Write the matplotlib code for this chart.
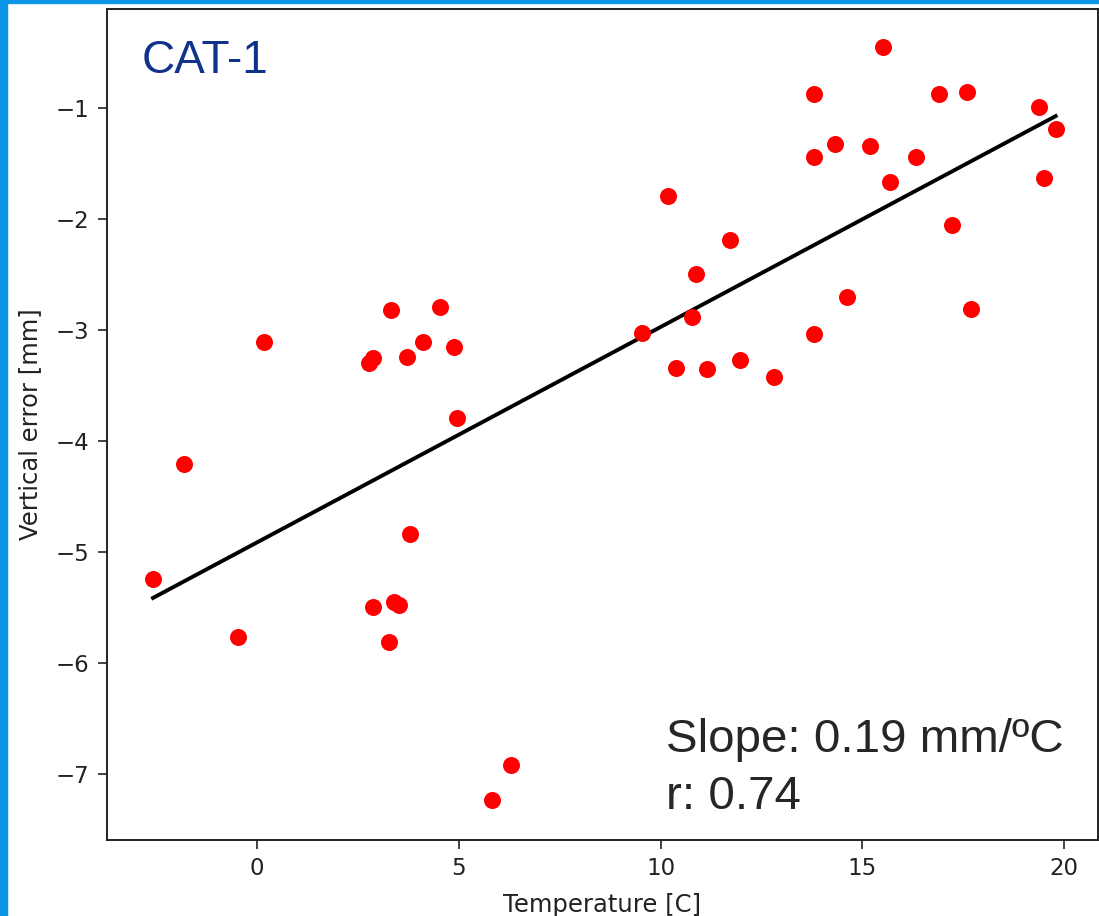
import matplotlib.pyplot as plt
import numpy as np
from matplotlib.patches import Rectangle

# temperature [C] and vertical error [mm]
temperature = [
    -1.80, -2.58, -0.48, 3.78, 2.87, 3.39, 3.51, 3.27,
    6.29, 5.82,
    10.19, 11.71, 10.88, 10.79, 9.53, 10.37, 11.14, 11.97, 12.80, 13.79,
    15.51, 13.80, 16.91, 17.60, 19.39, 19.79, 14.32, 15.19, 13.80, 16.33,
    19.49, 15.68, 17.22, 14.63, 17.69,
    0.17, 2.78, 2.88, 3.32, 3.71, 4.10, 4.54, 4.89, 4.95,
]
vertical_error = [
    -4.20, -5.24, -5.76, -4.83, -5.49, -5.45, -5.47, -5.81,
    -6.91, -7.23,
    -1.79, -2.19, -2.49, -2.88, -3.02, -3.34, -3.35, -3.27, -3.42, -3.03,
    -0.45, -0.87, -0.87, -0.85, -0.99, -1.19, -1.32, -1.34, -1.44, -1.44,
    -1.63, -1.66, -2.05, -2.70, -2.81,
    -3.10, -3.29, -3.25, -2.82, -3.24, -3.10, -2.79, -3.15, -3.79,
]

panel_title = "CAT-1"
slope_label = "Slope: 0.19 mm/\u00baC"
r_label = "r: 0.74"

W, H = 1099, 916
fig = plt.figure(figsize=(W / 100, H / 100), dpi=100)
fig.patch.set_facecolor("white")

ax = fig.add_axes([107 / W, 1 - 840 / H, (1098 - 107) / W, (840 - 9) / H])

x = np.array(temperature)
y = np.array(vertical_error)
ax.scatter(x, y, s=150, color="red", linewidths=0, zorder=3)

slope, intercept = np.polyfit(x, y, 1)
xs = np.array([x.min(), x.max()])
ax.plot(xs, slope * xs + intercept, color="black", linewidth=2.8, zorder=2)

ax.set_xlim(-3.72, 20.84)
ax.set_ylim(-7.59, -0.105)
ax.set_xticks([0, 5, 10, 15, 20])
ax.set_yticks([-1, -2, -3, -4, -5, -6, -7])
ax.set_yticklabels(["\u22121", "\u22122", "\u22123", "\u22124", "\u22125", "\u22126", "\u22127"])
ax.tick_params(labelsize=16.5, length=6.5, width=1.2, colors="#222222", pad=6)
for sp in ax.spines.values():
    sp.set_linewidth(1.4)
    sp.set_color("#222222")

ax.set_xlabel("Temperature [C]", fontsize=17.5, color="#222222", labelpad=9)
ax.set_ylabel("Vertical error [mm]", fontsize=17.5, color="#222222", labelpad=10)

fig.text(142 / W, 1 - 73 / H, panel_title, fontsize=33, color="#10318c",
         family="Liberation Sans", va="baseline", ha="left")
fig.text(666 / W, 1 - 752 / H, slope_label, fontsize=34.2, color="#262626",
         family="Liberation Sans", va="baseline", ha="left")
fig.text(666 / W, 1 - 809 / H, r_label, fontsize=34.2, color="#262626",
         family="Liberation Sans", va="baseline", ha="left")

# blue slide border on the left and top
blue = "#0a95e8"
fig.patches.append(Rectangle((0, 0), 7 / W, 1, transform=fig.transFigure,
                             color=blue, zorder=10))
fig.patches.append(Rectangle((0, 1 - 3 / H), 1, 3 / H, transform=fig.transFigure,
                             color=blue, zorder=10))

fig.savefig("out.png", dpi=100)
